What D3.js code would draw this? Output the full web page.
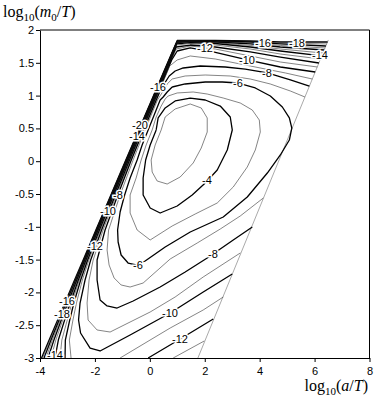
<!DOCTYPE html>
<html lang="en">
<head>
<meta charset="UTF-8">
<title>Contours</title>
<script src="https://cdnjs.cloudflare.com/ajax/libs/d3/7.8.5/d3.min.js"></script>
<style>
  body { margin: 0; background: #fff; }
  svg text { font-family: "Liberation Sans", Arial, sans-serif; fill: #000; }
</style>
</head>
<body>
<script>
// tick values
const xTicks = [-4, -2, 0, 2, 4, 6, 8];
const yTicks = [-3, -2.5, -2, -1.5, -1, -0.5, 0, 0.5, 1, 1.5, 2];

// contour lines, [log10(a/T), log10(m0/T)]
const c3 = [[0.413,0.476],[0.559,0.674],[0.923,0.796],[1.471,0.872],[1.872,0.811],[2.090,0.659],[2.090,0.445],[1.872,0.201],[1.580,-0.027],[1.106,-0.241],[0.632,-0.348],[0.267,-0.302],[0.085,-0.165],[0.048,0.018],[0.194,0.247],[0.413,0.476]];
const c4 = [[0.231,0.476],[0.303,0.659],[0.559,0.811],[0.923,0.918],[1.471,0.963],[2.018,0.933],[2.565,0.841],[2.929,0.674],[3.002,0.476],[2.820,0.171],[2.455,-0.134],[2.018,-0.332],[1.543,-0.515],[0.996,-0.683],[0.376,-0.790],[0.012,-0.713],[-0.244,-0.515],[-0.244,-0.256],[-0.152,0.018],[0.012,0.247],[0.231,0.476]];
const c5 = [[0.559,0.948],[0.668,0.994],[0.996,1.040],[1.580,1.055],[2.090,1.024],[2.674,0.963],[3.294,0.887],[3.732,0.780],[3.987,0.628],[4.023,0.445],[3.841,0.171],[3.549,-0.088],[3.039,-0.393],[2.455,-0.637],[1.653,-0.805],[0.814,-0.988],[0.012,-1.201],[-0.462,-1.049],[-0.718,-0.790],[-0.718,-0.515],[-0.499,-0.256],[-0.316,0.018],[-0.134,0.247],[0.085,0.476],[0.231,0.674],[0.413,0.841],[0.559,0.948]];
const c6 = [[0.814,1.131],[1.288,1.177],[2.018,1.207],[2.638,1.207],[3.221,1.192],[3.841,1.116],[4.388,0.994],[4.826,0.826],[5.081,0.659],[5.170,0.506],[5.081,0.323],[4.753,0.095],[4.279,-0.180],[3.549,-0.546],[2.674,-0.851],[1.471,-1.079],[0.559,-1.308],[-0.171,-1.521],[-0.499,-1.582],[-0.791,-1.552],[-1.046,-1.430],[-1.155,-1.232],[-1.174,-1.049],[-1.082,-0.774],[-0.918,-0.515],[-0.718,-0.256],[-0.462,0.018],[-0.280,0.247],[-0.061,0.476],[0.158,0.704],[0.376,0.933],[0.486,0.979],[0.632,1.055],[0.814,1.131]];
const c7 = [[5.646,0.979],[5.118,1.070],[4.388,1.177],[3.659,1.253],[2.929,1.299],[2.018,1.314],[1.288,1.299],[0.814,1.253],[0.632,1.177],[0.486,1.070],[0.278,0.933],[-0.174,0.476],[-0.608,0.018],[-1.083,-0.515],[-1.502,-1.049],[-1.557,-1.354],[-1.484,-1.582],[-1.301,-1.780],[-1.046,-1.887],[-0.718,-1.918],[-0.244,-1.857],[0.741,-1.491],[1.726,-1.247],[2.565,-1.034],[3.294,-0.835],[4.133,-0.561]];
const c8 = [[5.810,1.146],[5.118,1.238],[4.279,1.345],[3.476,1.405],[2.747,1.436],[1.835,1.451],[1.215,1.421],[0.923,1.375],[0.705,1.299],[0.522,1.177],[0.376,1.070],[0.234,0.933],[-0.225,0.476],[-0.674,0.018],[-1.166,-0.515],[-1.630,-1.049],[-1.921,-1.506],[-1.921,-1.811],[-1.812,-2.116],[-1.557,-2.207],[-1.192,-2.238],[-0.608,-2.131],[0.376,-1.918],[1.288,-1.689],[2.090,-1.476],[3.038,-1.201],[3.732,-1.003]];
const c9 = [[5.916,1.253],[4.935,1.345],[3.659,1.451],[2.382,1.558],[1.471,1.604],[0.996,1.543],[0.723,1.451],[0.665,1.390],[0.205,0.933],[-0.254,0.476],[-0.707,0.018],[-1.217,-0.515],[-1.702,-1.049],[-2.063,-1.506],[-2.213,-1.811],[-2.285,-2.162],[-2.249,-2.421],[-1.921,-2.573],[-1.447,-2.604],[0.012,-2.299],[0.923,-2.070],[1.945,-1.765],[3.294,-1.399]];
const c10 = [[6.022,1.360],[4.753,1.436],[3.549,1.543],[2.309,1.665],[1.471,1.726],[0.996,1.680],[0.796,1.543],[0.643,1.390],[0.183,0.933],[-0.280,0.476],[-0.736,0.018],[-1.254,-0.515],[-1.757,-1.049],[-2.154,-1.506],[-2.359,-1.811],[-2.541,-2.162],[-2.596,-2.421],[-2.523,-2.619],[-2.176,-2.848],[-1.812,-2.893],[-0.718,-2.649],[0.012,-2.482],[0.741,-2.314],[1.945,-1.994],[3.002,-1.720]];
const c11 = [[6.098,1.436],[4.753,1.512],[3.659,1.604],[2.382,1.710],[1.471,1.756],[0.960,1.710],[0.814,1.573],[0.625,1.390],[0.165,0.933],[-0.302,0.476],[-0.758,0.018],[-1.283,-0.515],[-1.801,-1.049],[-2.220,-1.506],[-2.457,-1.811],[-2.672,-2.162],[-2.800,-2.421],[-2.931,-2.726],[-2.869,-3.0]];
const c11b = [[-1.082,-3.0],[0.741,-2.543],[1.945,-2.268],[2.674,-2.070]];
const c12 = [[6.157,1.497],[4.753,1.588],[3.659,1.665],[2.382,1.741],[1.471,1.771],[0.960,1.741],[0.825,1.604],[0.610,1.390],[0.147,0.933],[-0.320,0.476],[-0.780,0.018],[-1.309,-0.515],[-1.834,-1.049],[-2.264,-1.506],[-2.519,-1.811],[-2.767,-2.162],[-2.917,-2.421],[-3.077,-2.726],[-3.088,-3.0]];
const c12b = [[-0.061,-3.0],[1.106,-2.710],[2.309,-2.405]];
const c13 = [[6.219,1.558],[4.753,1.634],[3.659,1.710],[2.382,1.771],[1.471,1.794],[0.978,1.771],[0.843,1.634],[0.595,1.390],[0.132,0.933],[-0.334,0.476],[-0.798,0.018],[-1.331,-0.515],[-1.859,-1.049],[-2.296,-1.506],[-2.567,-1.811],[-2.840,-2.162],[-3.008,-2.421],[-3.205,-2.726],[-3.270,-3.0]];
const c13b = [[0.850,-3.0],[1.981,-2.741]];
const c14 = [[6.263,1.604],[4.753,1.680],[3.659,1.741],[2.382,1.794],[1.471,1.809],[0.978,1.787],[0.865,1.665],[0.584,1.390],[0.117,0.933],[-0.349,0.476],[-0.813,0.018],[-1.349,-0.515],[-1.881,-1.049],[-2.322,-1.506],[-2.603,-1.811],[-2.898,-2.162],[-3.103,-2.421],[-3.332,-2.726],[-3.453,-3.0]];
const c15 = [[6.306,1.649],[4.753,1.710],[3.659,1.764],[2.382,1.809],[1.471,1.817],[0.996,1.802],[0.883,1.695],[0.573,1.390],[0.106,0.933],[-0.360,0.476],[-0.827,0.018],[-1.363,-0.515],[-1.899,-1.049],[-2.344,-1.506],[-2.632,-1.811],[-2.946,-2.162],[-3.172,-2.421],[-3.423,-2.726],[-3.599,-3.0]];
const c16 = [[6.354,1.695],[4.753,1.741],[3.659,1.787],[2.382,1.817],[1.471,1.825],[0.996,1.809],[0.891,1.710],[0.562,1.390],[0.095,0.933],[-0.371,0.476],[-0.838,0.018],[-1.378,-0.515],[-1.918,-1.049],[-2.366,-1.506],[-2.658,-1.811],[-2.986,-2.162],[-3.224,-2.421],[-3.493,-2.726],[-3.708,-3.0]];
const c17 = [[6.383,1.726],[4.753,1.764],[3.659,1.802],[2.382,1.825],[1.471,1.832],[0.996,1.817],[0.913,1.741],[0.555,1.390],[0.088,0.933],[-0.382,0.476],[-0.849,0.018],[-1.393,-0.515],[-1.932,-1.049],[-2.384,-1.506],[-2.680,-1.811],[-3.019,-2.162],[-3.267,-2.421],[-3.551,-2.726],[-3.781,-3.0]];
const c18 = [[6.412,1.756],[4.753,1.787],[3.659,1.817],[2.382,1.832],[1.471,1.835],[0.996,1.825],[0.920,1.756],[0.548,1.390],[0.081,0.933],[-0.389,0.476],[-0.856,0.018],[-1.400,-0.515],[-1.943,-1.049],[-2.399,-1.506],[-2.702,-1.811],[-3.048,-2.162],[-3.304,-2.421],[-3.599,-2.726],[-3.854,-3.0]];
const c19 = [[6.445,1.787],[4.753,1.802],[3.659,1.825],[2.382,1.835],[1.471,1.840],[0.996,1.832],[0.931,1.771],[0.541,1.390],[0.074,0.933],[-0.396,0.476],[-0.867,0.018],[-1.411,-0.515],[-1.954,-1.049],[-2.413,-1.506],[-2.724,-1.811],[-3.073,-2.162],[-3.333,-2.421],[-3.639,-2.726],[-3.909,-3.0]];
const c20 = [[6.474,1.817],[4.753,1.817],[3.659,1.832],[2.382,1.840],[1.471,1.843],[0.996,1.840],[0.942,1.787],[0.533,1.390],[0.066,0.933],[-0.404,0.476],[-0.875,0.018],[-1.418,-0.515],[-1.965,-1.049],[-2.428,-1.506],[-2.742,-1.811],[-3.095,-2.162],[-3.358,-2.421],[-3.668,-2.726],[-3.945,-3.0]];

// grey edge on the right of the region
const edgeLine = [[1.75, -3.0], [6.50, 1.848]];

// contour labels: text, x, y
const contourLabels = [
  ["-16", 0.30, 1.13], ["-20", -0.36, 0.55], ["-14", -0.48, 0.39],
  ["-12", 2.02, 1.726], ["-16", 4.13, 1.80], ["-18", 5.37, 1.80], ["-14", 6.21, 1.62],
  ["-10", 3.55, 1.543], ["-8", 4.28, 1.345], ["-6", 3.22, 1.19],
  ["-4", 2.10, -0.28],
  ["-8", -1.16, -0.515], ["-10", -1.52, -0.76], ["-12", -1.99, -1.29],
  ["-6", -0.43, -1.58], ["-16", -3.02, -2.13], ["-18", -3.20, -2.33], ["-14", -3.45, -2.95],
  ["-10", 0.74, -2.31], ["-12", 1.11, -2.71], ["-8", 2.31, -1.41]
];

const lines = [
  [-20, c20], [-19, c19], [-18, c18], [-17, c17], [-16, c16], [-15, c15], [-14, c14],
  [-13, c13], [-13, c13b], [-12, c12], [-12, c12b], [-11, c11], [-11, c11b],
  [-10, c10], [-9, c9], [-8, c8], [-7, c7], [-6, c6], [-5, c5], [-4, c4], [-3, c3]
];

const w = 382, h = 401;
const x = d3.scaleLinear().domain([-4, 8]).range([40, 369.5]);
const y = d3.scaleLinear().domain([-3, 2]).range([358, 30]);

const svg = d3.select('body').append('svg')
  .attr('width', w).attr('height', h);

const line = d3.line().x(d => x(d[0])).y(d => y(d[1]));

svg.append('path')
  .attr('d', line(edgeLine))
  .attr('fill', 'none')
  .attr('stroke', '#aaa')
  .attr('stroke-width', 1);

svg.selectAll('path.contour')
  .data(lines)
  .enter()
  .append('path')
  .attr('class', 'contour')
  .attr('d', d => line(d[1]))
  .attr('fill', 'none')
  .attr('stroke', d => d[0] % 2 === 0 ? '#000' : '#333')
  .attr('stroke-width', d => d[0] % 2 === 0 ? 1.3 : 0.6)
  .attr('stroke-linejoin', 'round');

// labels: a white halo breaks the line under the text
svg.selectAll('text.lab')
  .data(contourLabels)
  .enter()
  .append('text')
  .attr('class', 'lab')
  .attr('x', d => Math.round(x(d[1])))
  .attr('y', d => Math.round(y(d[2])) + 4)
  .attr('text-anchor', 'middle')
  .attr('font-size', 11)
  .attr('stroke', '#fff')
  .attr('stroke-width', 3)
  .attr('paint-order', 'stroke')
  .style('fill', '#000')
  .text(d => d[0]);

// frame
svg.append('path')
  .attr('d', `M${x(-4)},${y(2)}H${x(8)}V${y(-3)}`)
  .attr('fill', 'none')
  .attr('stroke', '#000')
  .attr('stroke-width', 1);

// axes
const xAxis = d3.axisBottom(x).tickValues(xTicks).tickFormat(d => String(d))
  .tickSize(4).tickSizeOuter(0);
const yAxis = d3.axisLeft(y).tickValues(yTicks).tickFormat(d => String(d))
  .tickSize(4).tickSizeOuter(0);

svg.append('g')
  .attr('transform', `translate(0,${y(-3)})`)
  .call(xAxis)
  .call(g => g.selectAll('text').attr('font-size', 11).attr('fill', '#000')
    .attr('font-family', '"Liberation Sans", Arial, sans-serif').attr('dy', '0.9em'))
  .call(g => g.selectAll('line,path').attr('stroke', '#000'));

svg.append('g')
  .attr('transform', `translate(${x(-4)},0)`)
  .call(yAxis)
  .call(g => g.selectAll('text').attr('font-size', 11).attr('fill', '#000')
    .attr('font-family', '"Liberation Sans", Arial, sans-serif').attr('x', -6))
  .call(g => g.selectAll('line,path').attr('stroke', '#000'));

// axis titles
const yt = svg.append('text')
  .attr('x', 3).attr('y', 17)
  .attr('font-size', 16)
  .style('font-family', '"Liberation Serif", "Times New Roman", serif');
yt.append('tspan').text('log');
yt.append('tspan').attr('font-size', 11).attr('dy', 4).text('10');
yt.append('tspan').attr('dy', -4).text('(');
yt.append('tspan').attr('font-style', 'italic').text('m');
yt.append('tspan').attr('font-size', 11).attr('dy', 4).text('0');
yt.append('tspan').attr('dy', -4).text('/');
yt.append('tspan').attr('font-style', 'italic').text('T');
yt.append('tspan').text(')');

const xt = svg.append('text')
  .attr('x', 368).attr('y', 391)
  .attr('text-anchor', 'end')
  .attr('font-size', 16)
  .style('font-family', '"Liberation Serif", "Times New Roman", serif');
xt.append('tspan').text('log');
xt.append('tspan').attr('font-size', 11).attr('dy', 4).text('10');
xt.append('tspan').attr('dy', -4).text('(');
xt.append('tspan').attr('font-style', 'italic').text('a');
xt.append('tspan').text('/');
xt.append('tspan').attr('font-style', 'italic').text('T');
xt.append('tspan').text(')');
</script>
</body>
</html>
